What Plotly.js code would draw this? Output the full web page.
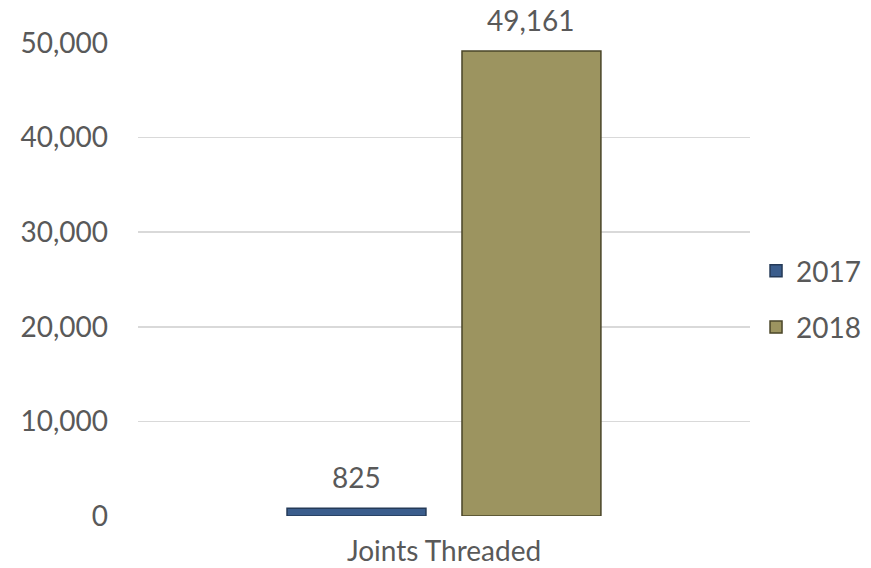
<!DOCTYPE html>
<html>
<head>
<meta charset="utf-8">
<script src="https://cdn.plot.ly/plotly-3.0.1.min.js"></script>
<style>html,body{margin:0;padding:0;background:#fff;}#chart{width:871px;height:568px;}</style>
</head>
<body>
<div id="chart"></div>
<script>
const categories = ["Joints Threaded"];
const seriesNames = ["2017", "2018"];
const values2017 = [825];
const values2018 = [49161];

const colors = ["#3b5d8c", "#9c9460"];
const edgeColors = ["#243a58", "#4a4528"];
const barWidth = 0.227;
const offsets = [-0.2565, 0.0294];
const fontFamily = "Lato, 'Open Sans', sans-serif";
const textColor = "#595959";
const fontSize = 28;

const seriesValues = [values2017, values2018];
const traces = seriesValues.map((vals, i) => ({
  type: "bar",
  name: seriesNames[i],
  x: categories,
  y: vals,
  width: barWidth,
  offset: offsets[i],
  legendgroup: "g" + i,
  marker: {color: colors[i], line: {color: edgeColors[i], width: 1.5}},
  hoverinfo: "y"
}));

const annotations = [];
seriesValues.forEach((vals, i) => {
  vals.forEach((v, j) => {
    annotations.push({
      x: j + offsets[i] + barWidth / 2,
      y: v,
      xref: "x", yref: "y",
      text: v.toLocaleString("en-US"),
      showarrow: false,
      yanchor: "bottom",
      yshift: 12,
      font: {family: fontFamily, size: fontSize, color: textColor}
    });
  });
});

const layout = {
  width: 871, height: 568,
  margin: {l: 138, r: 121, t: 43, b: 52, autoexpand: false},
  paper_bgcolor: "#fff", plot_bgcolor: "#fff",
  barmode: "overlay",
  font: {family: fontFamily, size: fontSize, color: textColor},
  xaxis: {
    type: "category",
    range: [-0.5, 0.5],
    showgrid: false, zeroline: false, showline: false,
    ticks: "", ticklabelstandoff: 16, automargin: false,
    tickfont: {family: fontFamily, size: fontSize, color: textColor}
  },
  yaxis: {
    range: [0, 50000], dtick: 10000, tickformat: ",d",
    gridcolor: "#d9d9d9", gridwidth: 1.5,
    zeroline: false, showline: false, ticks: "", automargin: false,
    ticklabelstandoff: 29,
    tickfont: {family: fontFamily, size: fontSize, color: textColor}
  },
  legend: {
    xref: "container", yref: "container",
    x: 0.868, xanchor: "left", y: 1 - 299 / 568, yanchor: "middle",
    tracegroupgap: 17,
    font: {family: fontFamily, size: fontSize, color: textColor},
    itemwidth: 30
  },
  annotations: annotations,
  showlegend: true
};

Plotly.newPlot("chart", traces, layout, {displayModeBar: false, staticPlot: true});
</script>
</body>
</html>
